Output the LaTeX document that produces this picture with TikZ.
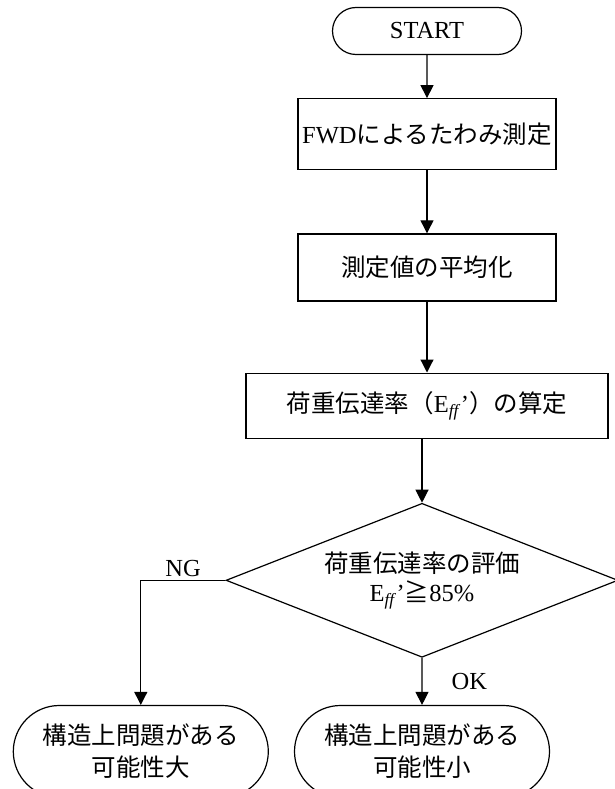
\documentclass[tikz,border=0pt]{standalone}
\usepackage{fontspec}
\setmainfont{Liberation Serif}
\newfontfamily\jp{Noto Sans CJK JP}
\usetikzlibrary{positioning,arrows.meta,shapes.geometric,shapes.misc}
\tikzset{
  base/.style={draw, line width=1.2pt, align=center, inner sep=0pt, font=\fontsize{24.5}{29}\selectfont},
  term/.style={base, rounded rectangle},
  procbox/.style={base, rectangle},
  judge/.style={base, diamond, aspect=2.55, minimum width=392pt, minimum height=154pt},
  result/.style={term, minimum width=255pt, minimum height=92pt, font=\jp\fontsize{24.5}{32}\selectfont},
  lbl/.style={inner sep=2pt, font=\fontsize{24.5}{29}\selectfont},
  arrow/.style={-{Triangle[length=13pt,width=13pt]}, line width=1.2pt}
}
\begin{document}
\begin{tikzpicture}[x=1pt, y=1pt]
        \useasboundingbox (0,0) rectangle (615,-789);
        \node[term, minimum width=189pt, minimum height=47pt] (start) at (427,-31) {START};
        \node[procbox, minimum width=258pt, minimum height=71pt, below=43pt of start] (fwd) {FWD{\jp によるたわみ測定}};
        \node[procbox, minimum width=258pt, minimum height=67pt, below=63pt of fwd] (avg) {{\jp 測定値の平均化}};
        \node[procbox, minimum width=362pt, minimum height=65pt, below=71pt of avg] (eff) {{\jp 荷重伝達率（}E\textsubscript{\textit{ff}}’{\jp ）の算定}};
        \node[judge, below=64pt of eff, xshift=-5pt] (chk) {{\jp 荷重伝達率の評価}\\E\textsubscript{\textit{ff}}’{\jp ≧}85\%};
        \node[result, below=47pt of chk] (small) {構造上問題がある\\可能性小};
        \node[result, left=25pt of small] (large) {構造上問題がある\\可能性大};
        \draw[arrow] (start) -- (fwd);
        \draw[arrow] (fwd) -- (avg);
        \draw[arrow] (avg) -- (eff);
        \draw[arrow] (eff.south -| chk.north) -- (chk.north);
        \draw[arrow] (chk.south) -- node[lbl, right=27pt] {OK} (small);
        \draw[arrow] (chk.west) -- node[lbl, above=1pt] {NG} (chk.west -| large.north) -- (large.north);
      \end{tikzpicture}
\end{document}
